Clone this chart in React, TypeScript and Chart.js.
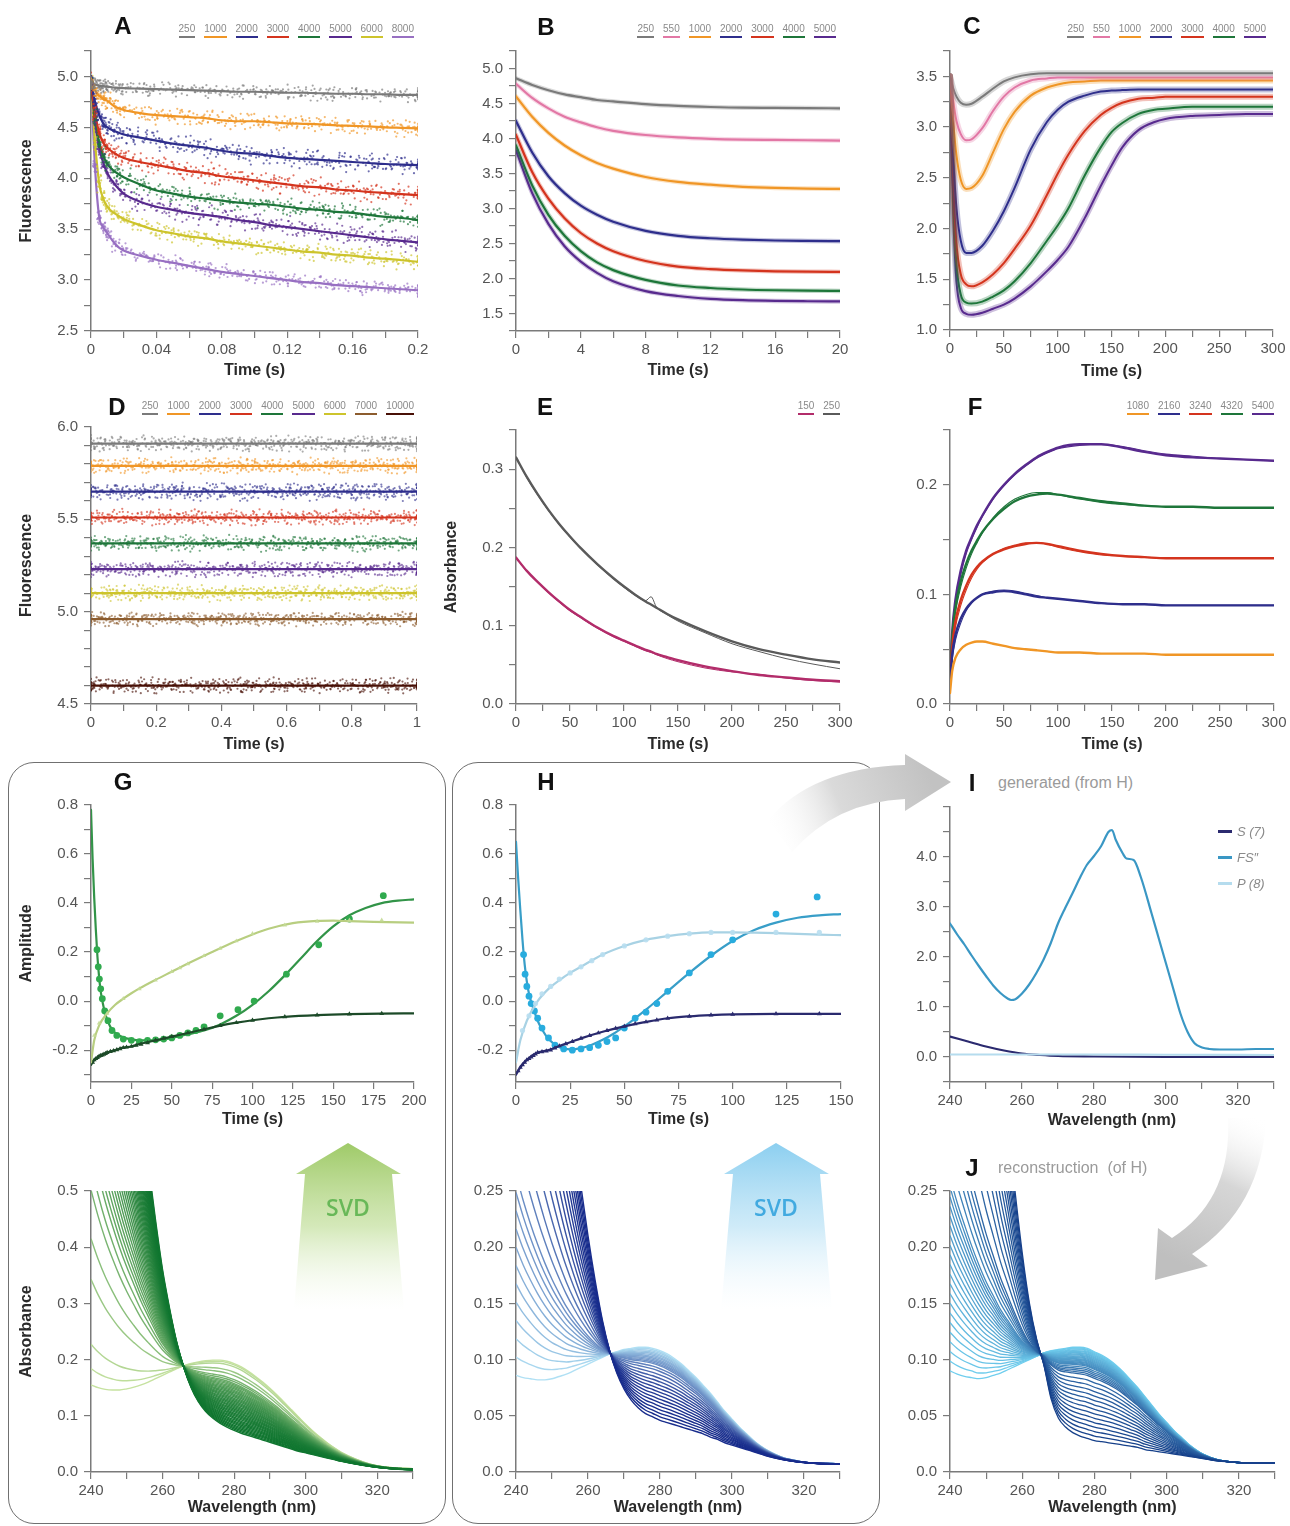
import React, { useEffect, useRef } from 'react';
import { Chart, registerables } from 'chart.js';

Chart.register(...registerables);

/* ===================== DATA ===================== */

// typed residual table used to scatter the raw points around each fitted trace
const JITTER_Y = [0.12, -0.85, 0.47, -0.23, 0.91, -0.56, 0.05, 0.68, -0.94, 0.33, -0.41, 0.79, -0.12, 0.26, -0.71, 0.58, -0.03, 0.87, -0.49, 0.19, -0.9, 0.41, -0.28, 0.73, -0.63, 0.09, 0.95, -0.17, 0.36, -0.79, 0.52, -0.35, 0.14, -0.97, 0.63, -0.07, 0.84, -0.52, 0.29, -0.66, 0.02, 0.77, -0.38, 0.45, -0.88, 0.22, -0.15, 0.6, -0.75, 0.39, -0.25, 0.98, -0.45, 0.11, -0.6, 0.7, -0.31, 0.31, -0.82, 0.55, -0.09];

// ---- A ----
const A_LABELS = ['250', '1000', '2000', '3000', '4000', '5000', '6000', '8000'];
const A_TIMES = [0, 0.0025, 0.005, 0.0075, 0.01, 0.015, 0.02, 0.03, 0.04, 0.05, 0.06, 0.07, 0.08, 0.09, 0.1, 0.11, 0.12, 0.13, 0.14, 0.15, 0.16, 0.17, 0.18, 0.19, 0.2];
const A_250 = [4.93, 4.92, 4.91, 4.905, 4.9, 4.89, 4.885, 4.88, 4.875, 4.87, 4.865, 4.86, 4.855, 4.85, 4.85, 4.845, 4.84, 4.84, 4.835, 4.83, 4.83, 4.825, 4.825, 4.82, 4.82];
const A_1000 = [4.93, 4.86, 4.81, 4.78, 4.76, 4.7, 4.67, 4.64, 4.62, 4.61, 4.6, 4.59, 4.57, 4.56, 4.56, 4.55, 4.54, 4.535, 4.53, 4.52, 4.515, 4.51, 4.5, 4.495, 4.49];
const A_2000 = [4.93, 4.75, 4.62, 4.54, 4.5, 4.46, 4.43, 4.4, 4.37, 4.34, 4.32, 4.3, 4.27, 4.25, 4.24, 4.22, 4.2, 4.19, 4.18, 4.17, 4.16, 4.15, 4.14, 4.135, 4.13];
const A_3000 = [4.93, 4.63, 4.45, 4.35, 4.3, 4.24, 4.2, 4.16, 4.13, 4.1, 4.07, 4.05, 4.02, 4.0, 3.98, 3.96, 3.94, 3.92, 3.91, 3.89, 3.88, 3.865, 3.855, 3.845, 3.835];
const A_4000 = [4.93, 4.6, 4.35, 4.22, 4.14, 4.06, 4.01, 3.94, 3.88, 3.85, 3.82, 3.8, 3.78, 3.76, 3.75, 3.74, 3.72, 3.7, 3.69, 3.67, 3.66, 3.64, 3.62, 3.61, 3.59];
const A_5000 = [4.93, 4.55, 4.3, 4.15, 4.05, 3.93, 3.85, 3.77, 3.72, 3.69, 3.66, 3.64, 3.62, 3.59, 3.57, 3.54, 3.52, 3.5, 3.48, 3.46, 3.44, 3.42, 3.4, 3.385, 3.37];
const A_6000 = [4.93, 4.35, 3.95, 3.8, 3.72, 3.65, 3.6, 3.54, 3.49, 3.46, 3.43, 3.41, 3.38, 3.36, 3.34, 3.32, 3.3, 3.28, 3.27, 3.25, 3.24, 3.22, 3.21, 3.195, 3.18];
const A_8000 = [4.93, 4.1, 3.62, 3.52, 3.46, 3.35, 3.29, 3.24, 3.2, 3.17, 3.14, 3.11, 3.08, 3.06, 3.04, 3.02, 3.0, 2.98, 2.97, 2.95, 2.94, 2.93, 2.92, 2.91, 2.9];
const A_SPREAD = [0.055, 0.065, 0.075, 0.075, 0.065, 0.075, 0.065, 0.055];

// ---- B ----
const B_LABELS = ['250', '550', '1000', '2000', '3000', '4000', '5000'];
const B_TIMES = [0, 1, 2, 3, 4, 5, 6, 8, 10, 12, 14, 16, 18, 20];
const B_250 = [4.86, 4.765, 4.69, 4.63, 4.59, 4.55, 4.53, 4.49, 4.465, 4.45, 4.44, 4.438, 4.435, 4.43];
const B_550 = [4.78, 4.58, 4.43, 4.31, 4.23, 4.16, 4.11, 4.05, 4.016, 3.996, 3.985, 3.98, 3.975, 3.97];
const B_1000 = [4.6, 4.31, 4.08, 3.9, 3.76, 3.65, 3.57, 3.45, 3.38, 3.34, 3.31, 3.294, 3.285, 3.28];
const B_2000 = [4.25, 3.8, 3.46, 3.22, 3.04, 2.91, 2.81, 2.68, 2.61, 2.575, 2.555, 2.543, 2.537, 2.533];
const B_3000 = [4.05, 3.52, 3.14, 2.86, 2.65, 2.5, 2.39, 2.25, 2.17, 2.135, 2.115, 2.103, 2.097, 2.094];
const B_4000 = [3.9, 3.33, 2.91, 2.61, 2.39, 2.23, 2.12, 1.98, 1.9, 1.864, 1.843, 1.832, 1.826, 1.823];
const B_5000 = [3.83, 3.22, 2.78, 2.46, 2.24, 2.08, 1.96, 1.82, 1.75, 1.71, 1.69, 1.68, 1.675, 1.672];

// ---- C ----
const C_LABELS = ['250', '550', '1000', '2000', '3000', '4000', '5000'];
const C_TIMES = [0, 3, 6, 10, 15, 20, 30, 40, 50, 60, 75, 90, 100, 110, 125, 140, 150, 160, 175, 190, 200, 225, 250, 275, 300];
const C_250 = [3.5, 3.38, 3.3, 3.24, 3.22, 3.23, 3.3, 3.38, 3.45, 3.49, 3.52, 3.53, 3.53, 3.53, 3.53, 3.53, 3.53, 3.53, 3.53, 3.53, 3.53, 3.53, 3.53, 3.53, 3.53];
const C_550 = [3.5, 3.25, 3.06, 2.93, 2.87, 2.88, 2.99, 3.16, 3.3, 3.39, 3.46, 3.48, 3.49, 3.49, 3.49, 3.49, 3.49, 3.49, 3.49, 3.49, 3.49, 3.49, 3.49, 3.49, 3.49];
const C_1000 = [3.5, 3.05, 2.72, 2.48, 2.39, 2.4, 2.52, 2.75, 2.98, 3.15, 3.31, 3.39, 3.42, 3.44, 3.45, 3.46, 3.46, 3.46, 3.46, 3.46, 3.46, 3.46, 3.46, 3.46, 3.46];
const C_2000 = [3.5, 2.7, 2.2, 1.88, 1.76, 1.76, 1.83, 1.98, 2.17, 2.4, 2.78, 3.05, 3.17, 3.25, 3.31, 3.35, 3.36, 3.365, 3.37, 3.37, 3.37, 3.37, 3.37, 3.37, 3.37];
const C_3000 = [3.5, 2.45, 1.85, 1.55, 1.45, 1.43, 1.47, 1.55, 1.66, 1.8, 2.03, 2.33, 2.54, 2.73, 2.96, 3.12, 3.19, 3.24, 3.28, 3.29, 3.3, 3.3, 3.3, 3.3, 3.3];
const C_4000 = [3.5, 2.3, 1.65, 1.35, 1.27, 1.26, 1.28, 1.33, 1.39, 1.48, 1.66, 1.88, 2.03, 2.2, 2.52, 2.8, 2.95, 3.04, 3.13, 3.17, 3.18, 3.2, 3.2, 3.2, 3.2];
const C_5000 = [3.5, 2.15, 1.48, 1.22, 1.16, 1.15, 1.17, 1.21, 1.25, 1.31, 1.43, 1.58, 1.69, 1.82, 2.1, 2.42, 2.62, 2.8, 2.97, 3.05, 3.08, 3.11, 3.12, 3.13, 3.13];

// ---- D ----
const D_LABELS = ['250', '1000', '2000', '3000', '4000', '5000', '6000', '7000', '10000'];
const D_TIMES = [0, 0.05, 0.1, 0.15, 0.2, 0.25, 0.3, 0.35, 0.4, 0.45, 0.5, 0.55, 0.6, 0.65, 0.7, 0.75, 0.8, 0.85, 0.9, 0.95, 1];
const D_LEVELS = [5.91, 5.79, 5.65, 5.51, 5.37, 5.23, 5.1, 4.96, 4.6];
const D_SPREAD = [0.032, 0.032, 0.036, 0.032, 0.032, 0.032, 0.032, 0.028, 0.032];

// ---- E ----
const E_LABELS = ['150', '250'];
const E_TIMES = [0, 10, 20, 30, 40, 50, 60, 75, 90, 100, 110, 120, 125, 130, 140, 150, 175, 200, 225, 250, 275, 300];
const E_250_FIT = [0.315, 0.29, 0.268, 0.248, 0.23, 0.214, 0.199, 0.179, 0.161, 0.15, 0.14, 0.131, 0.127, 0.123, 0.115, 0.108, 0.093, 0.08, 0.07, 0.063, 0.057, 0.053];
const E_250_DATA = [0.315, 0.289, 0.267, 0.247, 0.229, 0.213, 0.198, 0.178, 0.16, 0.149, 0.139, 0.132, 0.137, 0.124, 0.114, 0.106, 0.091, 0.077, 0.067, 0.058, 0.051, 0.045];
const E_150_FIT = [0.187, 0.17, 0.156, 0.143, 0.131, 0.12, 0.111, 0.098, 0.087, 0.081, 0.075, 0.069, 0.067, 0.064, 0.06, 0.056, 0.048, 0.042, 0.037, 0.034, 0.031, 0.029];
const E_150_DATA = [0.187, 0.169, 0.155, 0.142, 0.13, 0.119, 0.11, 0.097, 0.086, 0.08, 0.074, 0.068, 0.066, 0.063, 0.058, 0.054, 0.046, 0.041, 0.038, 0.033, 0.03, 0.028];

// ---- F ----
const F_LABELS = ['1080', '2160', '3240', '4320', '5400'];
const F_TIMES = [0, 2, 5, 10, 15, 20, 25, 30, 40, 50, 60, 70, 80, 90, 100, 120, 140, 160, 180, 200, 225, 250, 275, 300];
const F_1080 = [0.01, 0.03, 0.042, 0.05, 0.054, 0.056, 0.057, 0.057, 0.055, 0.053, 0.051, 0.05, 0.049, 0.048, 0.047, 0.047, 0.046, 0.046, 0.046, 0.045, 0.045, 0.045, 0.045, 0.045];
const F_2160 = [0.02, 0.045, 0.063, 0.078, 0.087, 0.093, 0.097, 0.1, 0.102, 0.103, 0.102, 0.1, 0.098, 0.097, 0.096, 0.094, 0.092, 0.091, 0.091, 0.09, 0.09, 0.09, 0.09, 0.09];
const F_3240 = [0.02, 0.052, 0.075, 0.095, 0.108, 0.118, 0.125, 0.13, 0.137, 0.141, 0.144, 0.146, 0.147, 0.146, 0.144, 0.14, 0.137, 0.135, 0.134, 0.133, 0.133, 0.133, 0.133, 0.133];
const F_4320 = [0.02, 0.06, 0.088, 0.112, 0.128, 0.14, 0.149, 0.157, 0.169, 0.178, 0.185, 0.189, 0.191, 0.192, 0.191, 0.188, 0.185, 0.183, 0.181, 0.18, 0.18, 0.179, 0.179, 0.179];
const F_5400 = [0.02, 0.065, 0.095, 0.122, 0.14, 0.152, 0.163, 0.172, 0.188, 0.2, 0.21, 0.218, 0.225, 0.23, 0.234, 0.237, 0.237, 0.234, 0.23, 0.227, 0.225, 0.224, 0.223, 0.222];
const F_2160_DATA = [0.02, 0.04, 0.058, 0.074, 0.085, 0.092, 0.097, 0.1, 0.103, 0.104, 0.103, 0.101, 0.099, 0.097, 0.096, 0.094, 0.092, 0.091, 0.091, 0.09, 0.09, 0.09, 0.09, 0.09];
const F_3240_DATA = [0.02, 0.048, 0.07, 0.09, 0.104, 0.115, 0.123, 0.129, 0.137, 0.142, 0.145, 0.147, 0.147, 0.146, 0.143, 0.139, 0.136, 0.135, 0.134, 0.133, 0.133, 0.133, 0.133, 0.133];
const F_4320_DATA = [0.02, 0.055, 0.083, 0.107, 0.124, 0.137, 0.147, 0.156, 0.17, 0.18, 0.187, 0.191, 0.193, 0.193, 0.191, 0.187, 0.184, 0.182, 0.181, 0.18, 0.18, 0.179, 0.179, 0.179];
const F_5400_DATA = [0.02, 0.06, 0.09, 0.118, 0.137, 0.15, 0.161, 0.171, 0.187, 0.199, 0.209, 0.217, 0.224, 0.229, 0.233, 0.236, 0.237, 0.235, 0.231, 0.228, 0.226, 0.224, 0.223, 0.222];

// ---- G (amplitudes) ----
const G_LIGHT_T = [0, 2, 5, 10, 15, 20, 25, 30, 40, 50, 60, 75, 90, 100, 110, 125, 140, 150, 160, 175, 200];
const G_LIGHT_V = [-0.25, -0.16, -0.1, -0.05, -0.015, 0.01, 0.032, 0.052, 0.087, 0.12, 0.153, 0.2, 0.245, 0.272, 0.295, 0.318, 0.327, 0.328, 0.326, 0.323, 0.32];
const G_LIGHT_PT_T = [2, 5, 10, 20, 30, 40, 50, 55, 60, 70, 80, 90, 100, 120, 140, 160, 180];
const G_LIGHT_PT_V = [-0.14, -0.09, -0.05, 0.01, 0.05, 0.085, 0.12, 0.135, 0.152, 0.185, 0.215, 0.245, 0.275, 0.31, 0.325, 0.33, 0.33];
const G_MID_T = [0, 1, 2, 3, 4, 5, 6, 8, 10, 12, 15, 20, 25, 30, 40, 50, 60, 70, 80, 90, 100, 110, 120, 130, 140, 150, 160, 170, 180, 190, 200];
const G_MID_V = [0.78, 0.58, 0.42, 0.29, 0.18, 0.1, 0.04, -0.03, -0.075, -0.105, -0.13, -0.148, -0.156, -0.16, -0.16, -0.15, -0.135, -0.12, -0.095, -0.06, -0.015, 0.04, 0.105, 0.175, 0.245, 0.305, 0.35, 0.38, 0.4, 0.41, 0.415];
const G_MID_PT_T = [3.7, 4.5, 5.2, 6, 7, 8.5, 10.5, 13, 16, 20, 25, 30, 35, 40, 45, 50, 55, 60, 65, 70, 80, 91, 101, 121, 141, 160, 181];
const G_MID_PT_V = [0.21, 0.14, 0.09, 0.05, 0.01, -0.04, -0.08, -0.12, -0.14, -0.155, -0.16, -0.165, -0.16, -0.158, -0.155, -0.15, -0.14, -0.13, -0.12, -0.105, -0.06, -0.035, 0.0, 0.11, 0.23, 0.335, 0.43];
const G_DARK_T = [0, 2, 5, 10, 15, 20, 25, 30, 40, 50, 60, 70, 80, 90, 100, 110, 120, 140, 160, 180, 200];
const G_DARK_V = [-0.26, -0.24, -0.225, -0.21, -0.2, -0.19, -0.185, -0.175, -0.16, -0.145, -0.13, -0.115, -0.1, -0.088, -0.078, -0.07, -0.064, -0.057, -0.053, -0.051, -0.05];
const G_DARK_PT_T = [1, 2, 3, 4, 5, 6, 7, 8, 9, 10, 12, 14, 16, 18, 20, 22, 25, 28, 31, 35, 40, 45, 50, 60, 70, 80, 90, 100, 120, 140, 160, 180];
const G_DARK_PT_V = [-0.25, -0.24, -0.235, -0.23, -0.225, -0.222, -0.22, -0.217, -0.214, -0.21, -0.206, -0.203, -0.199, -0.195, -0.19, -0.188, -0.185, -0.18, -0.176, -0.17, -0.16, -0.152, -0.145, -0.13, -0.115, -0.1, -0.088, -0.078, -0.064, -0.057, -0.053, -0.051];

// ---- H (amplitudes) ----
const H_LIGHT_T = [0, 2, 5, 10, 15, 20, 25, 30, 40, 50, 60, 70, 80, 90, 100, 110, 120, 130, 140, 150];
const H_LIGHT_V = [-0.25, -0.16, -0.08, 0.0, 0.05, 0.085, 0.115, 0.14, 0.19, 0.225, 0.25, 0.265, 0.275, 0.28, 0.28, 0.279, 0.277, 0.274, 0.271, 0.269];
const H_LIGHT_PT_T = [3, 6, 9, 12, 16, 20, 25, 30, 35, 40, 50, 60, 70, 80, 90, 100, 120, 140];
const H_LIGHT_PT_V = [-0.12, -0.06, -0.01, 0.03, 0.06, 0.09, 0.115, 0.14, 0.165, 0.19, 0.225, 0.25, 0.265, 0.275, 0.28, 0.28, 0.28, 0.28];
const H_MID_T = [0, 1, 2, 3, 4, 5, 6, 8, 10, 12, 15, 20, 25, 30, 35, 40, 45, 50, 55, 60, 70, 80, 90, 100, 110, 120, 130, 140, 150];
const H_MID_V = [0.65, 0.5, 0.37, 0.25, 0.15, 0.08, 0.03, -0.03, -0.08, -0.115, -0.155, -0.188, -0.197, -0.192, -0.178, -0.158, -0.133, -0.103, -0.07, -0.035, 0.04, 0.115, 0.185, 0.245, 0.29, 0.32, 0.34, 0.35, 0.355];
const H_MID_PT_T = [3.5, 4.2, 5, 6, 7, 8.5, 10, 12, 15, 18, 22, 26, 30, 34, 38, 42, 46, 50, 55, 60, 65, 70, 80, 90, 100, 120, 139];
const H_MID_PT_V = [0.19, 0.11, 0.06, 0.02, -0.01, -0.04, -0.07, -0.11, -0.15, -0.18, -0.195, -0.2, -0.195, -0.19, -0.18, -0.165, -0.15, -0.11, -0.07, -0.045, -0.01, 0.04, 0.115, 0.19, 0.25, 0.355, 0.425];
const H_DARK_T = [0, 2, 5, 10, 15, 20, 25, 30, 40, 50, 60, 70, 80, 90, 100, 120, 150];
const H_DARK_V = [-0.3, -0.27, -0.24, -0.21, -0.2, -0.183, -0.168, -0.152, -0.125, -0.103, -0.085, -0.07, -0.062, -0.057, -0.054, -0.052, -0.052];
const H_DARK_PT_T = [1, 2, 3, 4, 5, 6, 7, 8, 9, 10, 12, 14, 16, 18, 20, 23, 26, 30, 34, 38, 42, 46, 50, 55, 60, 65, 70, 80, 90, 100, 120, 140];
const H_DARK_PT_V = [-0.285, -0.27, -0.26, -0.25, -0.24, -0.235, -0.228, -0.222, -0.216, -0.21, -0.207, -0.204, -0.2, -0.192, -0.183, -0.174, -0.165, -0.152, -0.141, -0.13, -0.12, -0.111, -0.103, -0.093, -0.085, -0.077, -0.07, -0.062, -0.057, -0.054, -0.052, -0.052];

// ---- I (generated spectra) ----
const I_LABELS = ['S (7)', 'FS\u2033', 'P (8)'];
const I_WL_FS = [240, 242, 244, 246, 248, 250, 252, 254, 256, 257, 258, 260, 262, 264, 266, 268, 270, 272, 274, 276, 278, 280, 282, 284, 285, 286, 288, 289, 291, 293, 296, 298, 300, 302, 304, 306, 308, 310, 312, 315, 320, 325, 330];
const I_FS = [2.67, 2.45, 2.25, 2.03, 1.82, 1.62, 1.43, 1.28, 1.17, 1.14, 1.15, 1.27, 1.45, 1.68, 1.95, 2.28, 2.67, 2.98, 3.27, 3.57, 3.84, 4.02, 4.22, 4.5, 4.54, 4.35, 4.07, 3.97, 3.94, 3.6, 2.87, 2.37, 1.87, 1.37, 0.87, 0.5, 0.27, 0.19, 0.16, 0.15, 0.15, 0.16, 0.16];
const I_WL_S = [240, 245, 250, 255, 260, 265, 270, 280, 300, 330];
const I_S = [0.41, 0.31, 0.21, 0.13, 0.07, 0.04, 0.02, 0.01, 0.0, 0.0];
const I_WL_P = [240, 280, 300, 330];
const I_P = [0.05, 0.05, 0.045, 0.04];

// ---- spectra families (basis spectra + per-scan fractions) ----
const SPEC_WL = [240, 242, 244, 246, 248, 250, 252, 254, 256, 258, 260, 262, 264, 266, 268, 270, 272, 274, 276, 278, 280, 282, 284, 286, 288, 290, 292, 294, 296, 298, 300, 302, 304, 306, 308, 310, 314, 318, 322, 326, 330];
const G_SPEC_START = [1.6, 1.42, 1.26, 1.12, 0.99, 0.87, 0.76, 0.65, 0.55, 0.45, 0.36, 0.29, 0.23, 0.185, 0.15, 0.125, 0.108, 0.096, 0.087, 0.08, 0.074, 0.069, 0.065, 0.061, 0.057, 0.053, 0.049, 0.045, 0.041, 0.037, 0.034, 0.031, 0.028, 0.025, 0.022, 0.019, 0.014, 0.01, 0.007, 0.005, 0.004];
const G_SPEC_END = [0.155, 0.15, 0.147, 0.146, 0.146, 0.148, 0.151, 0.155, 0.16, 0.166, 0.172, 0.178, 0.184, 0.189, 0.193, 0.196, 0.198, 0.199, 0.199, 0.197, 0.193, 0.187, 0.179, 0.17, 0.16, 0.149, 0.137, 0.124, 0.111, 0.098, 0.085, 0.073, 0.062, 0.052, 0.043, 0.035, 0.023, 0.014, 0.009, 0.007, 0.006];
const G_FRACS = [0, 0.02, 0.04, 0.06, 0.08, 0.1, 0.12, 0.14, 0.16, 0.18, 0.2, 0.22, 0.24, 0.26, 0.28, 0.3, 0.32, 0.34, 0.36, 0.38, 0.4, 0.42, 0.44, 0.46, 0.48, 0.5, 0.52, 0.54, 0.56, 0.58, 0.6, 0.62, 0.64, 0.66, 0.68, 0.7, 0.73, 0.76, 0.82, 0.87, 0.95, 0.98, 1];
const H_SPEC_START = [0.9, 0.8, 0.71, 0.63, 0.555, 0.485, 0.42, 0.36, 0.305, 0.255, 0.21, 0.17, 0.135, 0.108, 0.088, 0.074, 0.064, 0.057, 0.052, 0.049, 0.046, 0.044, 0.042, 0.04, 0.038, 0.036, 0.034, 0.031, 0.029, 0.026, 0.024, 0.022, 0.02, 0.018, 0.016, 0.014, 0.011, 0.009, 0.008, 0.007, 0.007];
const H_SPEC_END = [0.086, 0.084, 0.083, 0.082, 0.082, 0.083, 0.085, 0.087, 0.09, 0.093, 0.096, 0.099, 0.102, 0.105, 0.107, 0.109, 0.11, 0.111, 0.111, 0.11, 0.108, 0.105, 0.101, 0.096, 0.09, 0.084, 0.077, 0.07, 0.062, 0.054, 0.047, 0.04, 0.034, 0.028, 0.023, 0.019, 0.013, 0.01, 0.008, 0.008, 0.007];
const H_FRACS = [0, 0.05, 0.1, 0.15, 0.2, 0.25, 0.3, 0.35, 0.4, 0.45, 0.5, 0.55, 0.6, 0.65, 0.7, 0.74, 0.78, 0.8, 0.82, 0.84, 0.86, 0.88, 0.9, 0.92, 0.94, 0.96, 0.98, 1];
const J_SPEC_START = [0.95, 0.85, 0.76, 0.67, 0.59, 0.51, 0.44, 0.37, 0.31, 0.25, 0.195, 0.15, 0.118, 0.095, 0.065, 0.048, 0.04, 0.035, 0.032, 0.03, 0.028, 0.027, 0.026, 0.025, 0.024, 0.023, 0.022, 0.02, 0.019, 0.018, 0.017, 0.016, 0.015, 0.014, 0.013, 0.012, 0.01, 0.009, 0.008, 0.008, 0.008];
const J_SPEC_END = [0.09, 0.087, 0.085, 0.084, 0.083, 0.084, 0.086, 0.088, 0.091, 0.094, 0.097, 0.1, 0.103, 0.106, 0.108, 0.109, 0.11, 0.111, 0.111, 0.11, 0.107, 0.104, 0.1, 0.095, 0.089, 0.082, 0.075, 0.067, 0.059, 0.051, 0.044, 0.037, 0.031, 0.025, 0.02, 0.016, 0.011, 0.009, 0.008, 0.008, 0.008];
const J_FRACS = [0, 0.05, 0.1, 0.15, 0.2, 0.25, 0.3, 0.35, 0.4, 0.45, 0.5, 0.55, 0.6, 0.65, 0.7, 0.72, 0.74, 0.76, 0.78, 0.8, 0.81, 0.82, 0.83, 0.84, 0.85, 0.86, 0.87, 0.88, 0.89, 0.9, 0.91, 0.92, 0.93, 0.94, 0.95, 0.96, 0.97, 0.98, 0.99, 1];

/* ===================== STYLE ===================== */

const FONT = '"Liberation Sans", Arial, Helvetica, sans-serif';
const AXIS_COLOR = '#7a7a7a';
const TICK_COLOR = '#555555';
const PAD_L = 75, PAD_T = 15, PAD_R = 22, PAD_B = 55;

const C_GREY = [122, 122, 122];
const C_ORANGE = [240, 150, 38];
const C_BLUE = [46, 46, 140];
const C_RED = [212, 52, 30];
const C_GREEN = [30, 118, 58];
const C_PURPLE = [88, 42, 142];
const C_YELLOW = [205, 196, 44];
const C_LAVENDER = [152, 112, 194];
const C_PINK = [226, 120, 165];
const C_BROWN = [140, 92, 46];
const C_DKBROWN = [72, 16, 6];
const C_MAGENTA = [178, 44, 106];
const C_DKGREY = [90, 90, 90];

const rgba = (c: number[], a = 1) => `rgba(${c[0]},${c[1]},${c[2]},${a})`;
const hex = (c: number[]) => rgba(c, 1);
const lerpCol = (c0: number[], c1: number[], f: number) => [0, 1, 2].map((i) => Math.round(c0[i] + (c1[i] - c0[i]) * f));

const A_COLORS = [C_GREY, C_ORANGE, C_BLUE, C_RED, C_GREEN, C_PURPLE, C_YELLOW, C_LAVENDER];
const BC_COLORS = [C_GREY, C_PINK, C_ORANGE, C_BLUE, C_RED, C_GREEN, C_PURPLE];
const D_COLORS = [C_GREY, C_ORANGE, C_BLUE, C_RED, C_GREEN, C_PURPLE, C_YELLOW, C_BROWN, C_DKBROWN];
const E_COLORS = [C_MAGENTA, C_DKGREY];
const F_COLORS = [C_ORANGE, C_BLUE, C_RED, C_GREEN, C_PURPLE];
const I_COLORS = [[43, 42, 111], [58, 151, 196], [181, 220, 238]];

// colour ramps for the scan families (position along the ramp from the scan fraction)
const rampPow = (gamma: number) => (f: number) => Math.pow(f, gamma);
const rampKnee = (knee: number, low: number) => (f: number) => (f <= knee ? (low * f) / knee : low + ((1 - low) * (f - knee)) / (1 - knee));

/* ===================== HELPERS ===================== */

const near = (v: number, m: number) => {
  const r = v / m;
  return Math.abs(r - Math.round(r)) < 1e-6;
};
const fmtFixed = (major: number, dec: number) => (v: number) => (near(v, major) ? v.toFixed(dec) : '');
const fmtTrim = (major: number) => (v: number) => (near(v, major) ? String(parseFloat(v.toFixed(4))) : '');

function makeScale(o: any, horizontal: boolean) {
  return {
    type: 'linear',
    min: o.min,
    max: o.max,
    position: horizontal ? 'bottom' : 'left',
    afterBuildTicks: (sc: any) => {
      const out: any[] = [];
      const a = Math.ceil(o.min / o.step - 1e-9);
      const b = Math.floor(o.max / o.step + 1e-9);
      for (let k = a; k <= b; k++) out.push({ value: parseFloat((k * o.step).toFixed(6)) });
      sc.ticks = out;
    },
    afterFit: (sc: any) => {
      if (horizontal) sc.height = PAD_B;
      else sc.width = PAD_L;
    },
    border: { display: true, color: AXIS_COLOR, width: 1.5 },
    grid: { display: true, drawOnChartArea: false, drawTicks: true, tickLength: 7, color: AXIS_COLOR, lineWidth: 1.2 },
    ticks: {
      autoSkip: false,
      maxRotation: 0,
      minRotation: 0,
      padding: horizontal ? 3 : 6,
      color: TICK_COLOR,
      font: { family: FONT, size: 15 },
      callback: (v: number) => o.fmt(v),
    },
    title: {
      display: !!o.title,
      text: o.title || '',
      color: '#2a2a2a',
      font: { family: FONT, size: 16, weight: 'bold', lineHeight: 1.2 },
      padding: horizontal ? { top: 0, bottom: o.titlePad || 0 } : { top: 1.4, bottom: 0 },
    },
  };
}

function chartConfig(xa: any, ya: any, datasets: any[]) {
  return {
    type: 'line',
    data: { datasets },
    options: {
      animation: false,
      responsive: false,
      maintainAspectRatio: false,
      devicePixelRatio: 1,
      events: [],
      layout: { padding: { left: 0, top: PAD_T, right: PAD_R, bottom: 0 } },
      plugins: { legend: { display: false }, tooltip: { enabled: false } },
      scales: { x: makeScale(xa, true), y: makeScale(ya, false) },
    },
  };
}

const pts = (xs: number[], ys: number[]) => xs.map((x, i) => ({ x, y: ys[i] }));

const lineDs = (xs: number[], ys: number[], col: number[], width: number, alpha = 1) => ({
  data: pts(xs, ys),
  borderColor: rgba(col, alpha),
  backgroundColor: rgba(col, alpha),
  borderWidth: width,
  pointRadius: 0,
  pointHoverRadius: 0,
  fill: false,
  cubicInterpolationMode: 'monotone',
  borderCapStyle: 'round',
  borderJoinStyle: 'round',
});

const dotDs = (data: any[], col: number[], alpha: number, radius: number, style = 'circle') => ({
  data,
  showLine: false,
  borderColor: rgba(col, alpha),
  backgroundColor: rgba(col, alpha),
  pointBackgroundColor: rgba(col, alpha),
  pointBorderWidth: 0,
  pointRadius: radius,
  pointHoverRadius: radius,
  pointStyle: style,
});

// raw points scattered around a fitted trace using the typed residual table
function cloud(times: number[], fit: number[], spread: number, seed: number, perCol: number) {
  const out: any[] = [];
  const n = times.length;
  const L = JITTER_Y.length;
  for (let i = 0; i < n; i++) {
    const gl = i > 0 ? times[i] - times[i - 1] : 0;
    const gr = i < n - 1 ? times[i + 1] - times[i] : 0;
    for (let k = 0; k < perCol; k++) {
      const u = JITTER_Y[(i * 13 + k * 7 + seed * 3 + 5) % L];
      const x = times[i] + (u < 0 ? u * gl : u * gr) * 0.5;
      const a = JITTER_Y[(i * perCol + k + seed * 17) % L];
      const b = JITTER_Y[(i * 31 + k * 11 + seed * 5 + 11) % L];
      out.push({ x, y: fit[i] + (a + b) * 0.75 * spread });
    }
  }
  return out;
}

// family of scans built from two basis spectra and the per-scan fractions
function family(start: number[], end: number[], fracs: number[], c0: number[], c1: number[], width: number, ramp: (f: number) => number) {
  return fracs.map((f) => ({
    data: SPEC_WL.map((w, i) => ({ x: w, y: start[i] * (1 - f) + end[i] * f })),
    borderColor: hex(lerpCol(c0, c1, ramp(f))),
    borderWidth: width,
    pointRadius: 0,
    pointHoverRadius: 0,
    fill: false,
    cubicInterpolationMode: 'monotone',
  }));
}

/* ===================== PANELS ===================== */

const R = {
  A: { x0: 91, y0: 51, x1: 418, y1: 331 },
  B: { x0: 516, y0: 51, x1: 840, y1: 331 },
  C: { x0: 950, y0: 51, x1: 1273, y1: 330 },
  D: { x0: 91, y0: 427, x1: 417, y1: 704 },
  E: { x0: 516, y0: 430, x1: 840, y1: 704 },
  F: { x0: 950, y0: 430, x1: 1274, y1: 704 },
  G: { x0: 91, y0: 805, x1: 414, y1: 1082 },
  H: { x0: 516, y0: 805, x1: 841, y1: 1082 },
  I: { x0: 950, y0: 807, x1: 1274, y1: 1082 },
  GS: { x0: 91, y0: 1191, x1: 413, y1: 1472 },
  HS: { x0: 516, y0: 1191, x1: 840, y1: 1472 },
  J: { x0: 950, y0: 1191, x1: 1275, y1: 1472 },
};
const tp = (r: any, center: number) => r.y1 + PAD_B - 9.6 - center;

const A_SERIES = [A_250, A_1000, A_2000, A_3000, A_4000, A_5000, A_6000, A_8000];
const B_SERIES = [B_250, B_550, B_1000, B_2000, B_3000, B_4000, B_5000];
const C_SERIES = [C_250, C_550, C_1000, C_2000, C_3000, C_4000, C_5000];

const timeX = (min: number, max: number, step: number, major: number, r: any, center: number) => ({
  min, max, step, fmt: fmtTrim(major), title: 'Time (s)', titlePad: tp(r, center),
});
const wlX = (r: any, center: number) => ({ min: 240, max: 330, step: 10, fmt: fmtTrim(20), title: 'Wavelength (nm)', titlePad: tp(r, center) });
const fmtQuarter = (v: number) => (Math.abs(v) < 1e-9 ? '0.0' : v.toFixed(2));

const PANELS: any[] = [
  {
    id: 'A', rect: R.A,
    build: () => chartConfig(
      timeX(0, 0.2, 0.02, 0.04, R.A, 371),
      { min: 2.5, max: 5.25, step: 0.25, fmt: fmtFixed(0.5, 1), title: 'Fluorescence' },
      [
        ...A_SERIES.map((s, k) => dotDs(cloud(A_TIMES, s, A_SPREAD[k], k, 16), A_COLORS[k], 0.68, 1.1)),
        ...A_SERIES.map((s, k) => lineDs(A_TIMES, s, A_COLORS[k], 2.2)),
      ]
    ),
  },
  {
    id: 'B', rect: R.B,
    build: () => chartConfig(
      timeX(0, 20, 2, 4, R.B, 371),
      { min: 1.25, max: 5.25, step: 0.25, fmt: fmtFixed(0.5, 1) },
      [
        ...B_SERIES.map((s, k) => lineDs(B_TIMES, s, BC_COLORS[k], 4.5, 0.28)),
        ...B_SERIES.map((s, k) => lineDs(B_TIMES, s, BC_COLORS[k], 2.2)),
      ]
    ),
  },
  {
    id: 'C', rect: R.C,
    build: () => chartConfig(
      timeX(0, 300, 25, 50, R.C, 372),
      { min: 1.0, max: 3.75, step: 0.25, fmt: fmtFixed(0.5, 1) },
      [
        ...C_SERIES.map((s, k) => lineDs(C_TIMES, s, BC_COLORS[k], 6, 0.3)),
        ...C_SERIES.map((s, k) => lineDs(C_TIMES, s, BC_COLORS[k], 2)),
      ]
    ),
  },
  {
    id: 'D', rect: R.D,
    build: () => chartConfig(
      timeX(0, 1, 0.1, 0.2, R.D, 745),
      { min: 4.5, max: 6.0, step: 0.1, fmt: fmtFixed(0.5, 1), title: 'Fluorescence' },
      [
        ...D_LEVELS.map((lv, k) => dotDs(cloud(D_TIMES, D_TIMES.map(() => lv), D_SPREAD[k], k + 3, 24), D_COLORS[k], 0.62, 1.1)),
        ...D_LEVELS.map((lv, k) => lineDs([0, 1], [lv, lv], D_COLORS[k], 2.2)),
      ]
    ),
  },
  {
    id: 'E', rect: R.E,
    build: () => chartConfig(
      timeX(0, 300, 25, 50, R.E, 745),
      { min: 0, max: 0.35, step: 0.05, fmt: fmtFixed(0.1, 1), title: 'Absorbance' },
      [
        lineDs(E_TIMES, E_250_FIT, C_DKGREY, 2.4),
        lineDs(E_TIMES, E_250_DATA, C_DKGREY, 1),
        lineDs(E_TIMES, E_150_FIT, C_MAGENTA, 2.4),
        lineDs(E_TIMES, E_150_DATA, C_MAGENTA, 1),
      ]
    ),
  },
  {
    id: 'F', rect: R.F,
    build: () => chartConfig(
      timeX(0, 300, 25, 50, R.F, 745),
      { min: 0, max: 0.25, step: 0.05, fmt: fmtFixed(0.1, 1) },
      [
        lineDs(F_TIMES, F_1080, C_ORANGE, 2.4),
        lineDs(F_TIMES, F_2160, C_BLUE, 2.4),
        lineDs(F_TIMES, F_2160_DATA, C_BLUE, 1.1),
        lineDs(F_TIMES, F_3240, C_RED, 2.4),
        lineDs(F_TIMES, F_3240_DATA, C_RED, 1.1),
        lineDs(F_TIMES, F_4320, C_GREEN, 2.4),
        lineDs(F_TIMES, F_4320_DATA, C_GREEN, 1.1),
        lineDs(F_TIMES, F_5400, C_PURPLE, 2.4),
        lineDs(F_TIMES, F_5400_DATA, C_PURPLE, 1.1),
      ]
    ),
  },
  {
    id: 'G', rect: R.G,
    build: () => chartConfig(
      timeX(0, 200, 25, 25, R.G, 1120),
      { min: -0.33, max: 0.8, step: 0.1, fmt: fmtFixed(0.2, 1), title: 'Amplitude' },
      [
        dotDs(pts(G_LIGHT_PT_T, G_LIGHT_PT_V), [196, 218, 150], 0.9, 2.6, 'triangle'),
        lineDs(G_LIGHT_T, G_LIGHT_V, [184, 206, 128], 2.2),
        dotDs(pts(G_DARK_PT_T, G_DARK_PT_V), [28, 74, 40], 1, 2.8, 'triangle'),
        lineDs(G_DARK_T, G_DARK_V, [28, 74, 40], 2.2),
        dotDs(pts(G_MID_PT_T, G_MID_PT_V), [48, 170, 78], 1, 3.4),
        lineDs(G_MID_T, G_MID_V, [50, 148, 72], 2.2),
      ]
    ),
  },
  {
    id: 'H', rect: R.H,
    build: () => chartConfig(
      timeX(0, 150, 25, 25, R.H, 1120),
      { min: -0.33, max: 0.8, step: 0.1, fmt: fmtFixed(0.2, 1) },
      [
        dotDs(pts(H_LIGHT_PT_T, H_LIGHT_PT_V), [184, 222, 240], 0.9, 2.6),
        lineDs(H_LIGHT_T, H_LIGHT_V, [168, 210, 228], 2.2),
        dotDs(pts(H_DARK_PT_T, H_DARK_PT_V), [42, 42, 110], 1, 2.8, 'triangle'),
        lineDs(H_DARK_T, H_DARK_V, [42, 42, 110], 2.2),
        dotDs(pts(H_MID_PT_T, H_MID_PT_V), [40, 172, 222], 1, 3.4),
        lineDs(H_MID_T, H_MID_V, [56, 158, 200], 2.2),
      ]
    ),
  },
  {
    id: 'I', rect: R.I,
    build: () => chartConfig(
      wlX(R.I, 1121),
      { min: -0.5, max: 5.0, step: 0.5, fmt: (v: number) => (near(v, 1) && v > -0.01 && v < 4.01 ? v.toFixed(1) : '') },
      [
        lineDs(I_WL_P, I_P, I_COLORS[2], 2.2),
        lineDs(I_WL_S, I_S, I_COLORS[0], 2.2),
        lineDs(I_WL_FS, I_FS, I_COLORS[1], 2.2),
      ]
    ),
  },
  {
    id: 'GS', rect: R.GS,
    build: () => chartConfig(
      wlX(R.GS, 1508),
      { min: 0, max: 0.5, step: 0.1, fmt: fmtFixed(0.1, 1), title: 'Absorbance' },
      family(G_SPEC_START, G_SPEC_END, G_FRACS, [16, 118, 48], [198, 226, 160], 1.4, rampPow(2))
    ),
  },
  {
    id: 'HS', rect: R.HS,
    build: () => chartConfig(
      wlX(R.HS, 1508),
      { min: 0, max: 0.25, step: 0.05, fmt: fmtQuarter },
      family(H_SPEC_START, H_SPEC_END, H_FRACS, [24, 44, 140], [176, 224, 244], 1.4, rampPow(2.5))
    ),
  },
  {
    id: 'J', rect: R.J,
    build: () => chartConfig(
      wlX(R.J, 1508),
      { min: 0, max: 0.25, step: 0.05, fmt: fmtQuarter },
      family(J_SPEC_START, J_SPEC_END, J_FRACS, [22, 64, 138], [112, 206, 238], 1.3, rampKnee(0.7, 0.28))
    ),
  },
];

/* ===================== COMPONENTS ===================== */

function ChartPanel({ spec }: any) {
  const ref = useRef<HTMLCanvasElement | null>(null);
  const r = spec.rect;
  const W = r.x1 - r.x0 + PAD_L + PAD_R;
  const H = r.y1 - r.y0 + PAD_T + PAD_B;
  useEffect(() => {
    if (!ref.current) return;
    const chart = new Chart(ref.current, spec.build());
    return () => chart.destroy();
  }, []);
  return (
    <canvas
      ref={ref}
      width={W}
      height={H}
      style={{ position: 'absolute', left: r.x0 - PAD_L, top: r.y0 - PAD_T, width: W, height: H }}
    />
  );
}

function Legend({ right, top, labels, colors }: any) {
  return (
    <div style={{ position: 'absolute', right: 1290 - right, top, display: 'flex', gap: 9, font: `10px ${FONT}`, color: '#8a8a8a' }}>
      {labels.map((l: string, i: number) => (
        <div key={i} style={{ display: 'flex', flexDirection: 'column' }}>
          <span style={{ lineHeight: '11px', whiteSpace: 'nowrap' }}>{l}</span>
          <span style={{ height: 2.5, background: hex(colors[i]), marginTop: 1.5 }} />
        </div>
      ))}
    </div>
  );
}

function Label({ x, y, text, style }: any) {
  return (
    <div style={{ position: 'absolute', left: x, top: y, transform: 'translate(-50%, -50%)', whiteSpace: 'nowrap', lineHeight: 1, ...style }}>
      {text}
    </div>
  );
}

function Arrows() {
  return (
    <svg width={1290} height={1526} style={{ position: 'absolute', left: 0, top: 0 }}>
      <defs>
        <linearGradient id="gArrow1" gradientUnits="userSpaceOnUse" x1="772" y1="842" x2="930" y2="778">
          <stop offset="0" stopColor="#ffffff" stopOpacity="0" />
          <stop offset="0.45" stopColor="#dadada" stopOpacity="1" />
          <stop offset="1" stopColor="#c2c2c2" stopOpacity="1" />
        </linearGradient>
        <linearGradient id="gArrow2" gradientUnits="userSpaceOnUse" x1="1250" y1="1112" x2="1178" y2="1262">
          <stop offset="0" stopColor="#ffffff" stopOpacity="0" />
          <stop offset="0.45" stopColor="#d6d6d6" stopOpacity="1" />
          <stop offset="1" stopColor="#bfbfbf" stopOpacity="1" />
        </linearGradient>
        <linearGradient id="gSvdG" x1="0" y1="0" x2="0" y2="1">
          <stop offset="0" stopColor="#9fca68" stopOpacity="1" />
          <stop offset="0.5" stopColor="#c6e1a2" stopOpacity="0.75" />
          <stop offset="1" stopColor="#f0f8e6" stopOpacity="0" />
        </linearGradient>
        <linearGradient id="gSvdH" x1="0" y1="0" x2="0" y2="1">
          <stop offset="0" stopColor="#8ccff0" stopOpacity="1" />
          <stop offset="0.5" stopColor="#bfe4f6" stopOpacity="0.75" />
          <stop offset="1" stopColor="#eef8fd" stopOpacity="0" />
        </linearGradient>
      </defs>
      <path d="M 768 820 Q 812 768 905 765 L 905 754 L 951 782 L 905 811 L 905 799 Q 836 802 792 852 Z" fill="url(#gArrow1)" />
      <path d="M 1228 1118 Q 1232 1200 1172 1238 L 1158 1228 L 1155 1280 L 1208 1266 L 1192 1254 Q 1262 1208 1266 1118 Z" fill="url(#gArrow2)" />
      <polygon points="348,1143 401,1174 392,1174 404,1310 294,1310 305,1174 296,1174" fill="url(#gSvdG)" />
      <polygon points="776,1143 829,1174 820,1174 832,1310 721,1310 733,1174 724,1174" fill="url(#gSvdH)" />
    </svg>
  );
}

const boxStyle = (left: number, top: number, width: number, height: number): any => ({
  position: 'absolute', left, top, width, height, border: '1.5px solid #707070', borderRadius: 26, boxSizing: 'border-box',
});

const LETTER_STYLE = { font: `bold 24px ${FONT}`, color: '#111' };
const NOTE_STYLE = { font: `16px ${FONT}`, color: '#9a9a9a' };

export default function App() {
  return (
    <div style={{ position: 'absolute', left: 0, top: 0, width: 1290, height: 1526, background: '#ffffff', overflow: 'hidden', fontFamily: FONT }}>
      <div style={boxStyle(8, 762, 438, 762)} />
      <div style={boxStyle(452, 762, 428, 762)} />
      <Arrows />
      {PANELS.map((p) => (
        <ChartPanel key={p.id} spec={p} />
      ))}

      <Label x={123} y={26} text="A" style={LETTER_STYLE} />
      <Label x={546} y={27} text="B" style={LETTER_STYLE} />
      <Label x={972} y={26} text="C" style={LETTER_STYLE} />
      <Label x={117} y={407} text="D" style={LETTER_STYLE} />
      <Label x={545} y={407} text="E" style={LETTER_STYLE} />
      <Label x={975} y={407} text="F" style={LETTER_STYLE} />
      <Label x={123} y={782} text="G" style={LETTER_STYLE} />
      <Label x={546} y={782} text="H" style={LETTER_STYLE} />
      <Label x={972} y={783} text="I" style={LETTER_STYLE} />
      <Label x={972} y={1168} text="J" style={LETTER_STYLE} />

      <div style={{ position: 'absolute', left: 998, top: 774, whiteSpace: 'nowrap', lineHeight: '18px', ...NOTE_STYLE }}>generated (from H)</div>
      <div style={{ position: 'absolute', left: 998, top: 1159, whiteSpace: 'nowrap', lineHeight: '18px', ...NOTE_STYLE }}>reconstruction&nbsp;&nbsp;(of H)</div>

      <Legend right={414} top={23} labels={A_LABELS} colors={A_COLORS} />
      <Legend right={836} top={23} labels={B_LABELS} colors={BC_COLORS} />
      <Legend right={1266} top={23} labels={C_LABELS} colors={BC_COLORS} />
      <Legend right={414} top={400} labels={D_LABELS} colors={D_COLORS} />
      <Legend right={840} top={400} labels={E_LABELS} colors={E_COLORS} />
      <Legend right={1274} top={400} labels={F_LABELS} colors={F_COLORS} />

      {I_LABELS.map((l, i) => (
        <div key={l} style={{ position: 'absolute', left: 1218, top: 824 + i * 26, display: 'flex', alignItems: 'center', gap: 5 }}>
          <span style={{ width: 14, height: 3, background: hex(I_COLORS[i]) }} />
          <span style={{ font: `italic 13px ${FONT}`, color: '#8a8a8a', lineHeight: '15px' }}>{l}</span>
        </div>
      ))}

      <Label x={348} y={1207} text="SVD" style={{ font: `600 23px "Open Sans", ${FONT}`, color: 'rgb(104,184,88)' }} />
      <Label x={776} y={1207} text="SVD" style={{ font: `600 23px "Open Sans", ${FONT}`, color: 'rgb(66,170,224)' }} />
    </div>
  );
}
